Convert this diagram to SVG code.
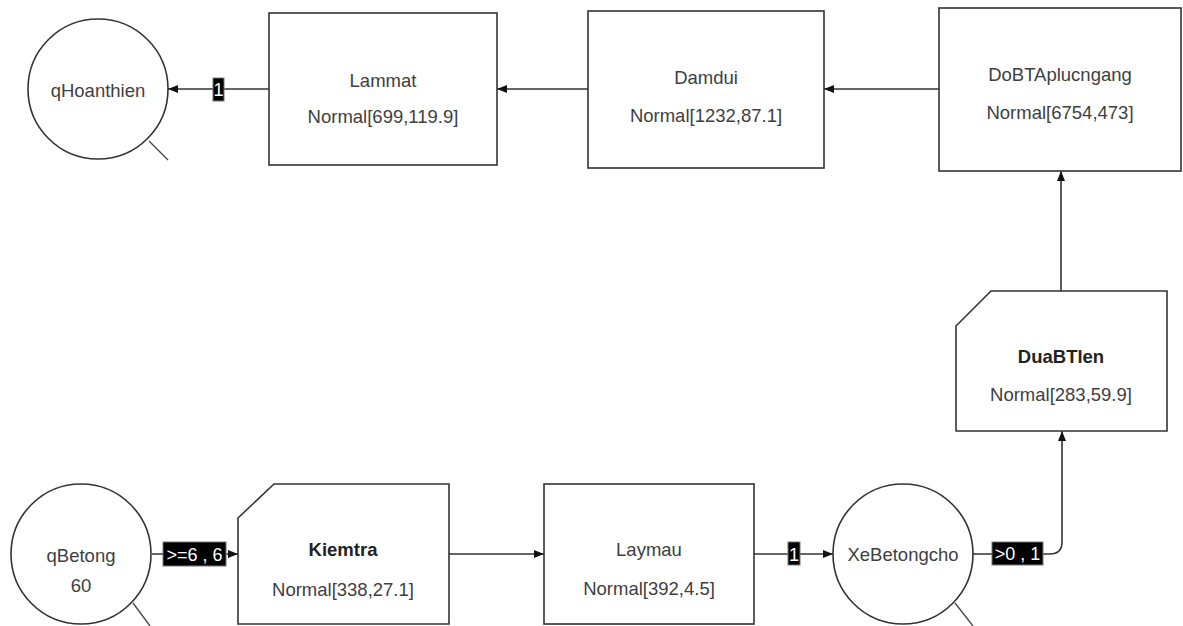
<svg xmlns="http://www.w3.org/2000/svg" width="1183" height="626" viewBox="0 0 1183 626">
  <defs>
    <marker id="arrow" viewBox="0 0 10 10" refX="10" refY="5" markerWidth="10" markerHeight="10" markerUnits="userSpaceOnUse" orient="auto">
      <path d="M0,1 L10,5 L0,9 Z" fill="#111"/>
    </marker>
    <style>
      .shape { fill: #fff; stroke: #333; stroke-width: 1.6; }
      .tail { fill: none; stroke: #444; stroke-width: 1.3; }
      .t { font-family: "Liberation Sans", Arial, sans-serif; font-size: 18.5px; fill: #404040; text-anchor: middle; }
      .b { font-weight: bold; fill: #222; }
      .edge { fill: none; stroke: #333; stroke-width: 1.6; }
      .lblbox { fill: #000; stroke: #777; stroke-width: 1; }
      .lbl { font-family: "Liberation Sans", Arial, sans-serif; font-size: 18px; fill: #fff; text-anchor: middle; }
    </style>
  </defs>
  <rect width="1183" height="626" fill="#fff"/>

  <!-- connectors -->
  <g id="connectors">
    <path class="edge" d="M152,554 H238" marker-end="url(#arrow)"/>
    <path class="edge" d="M449,554 H544" marker-end="url(#arrow)"/>
    <path class="edge" d="M754,554 H833" marker-end="url(#arrow)"/>
    <path class="edge" d="M973,554 H1050 Q1062,554 1062,542 V431" marker-end="url(#arrow)"/>
    <path class="edge" d="M1061,291 V171" marker-end="url(#arrow)"/>
    <path class="edge" d="M939,89 H824" marker-end="url(#arrow)"/>
    <path class="edge" d="M588,89 H497" marker-end="url(#arrow)"/>
    <path class="edge" d="M269,89 H168" marker-end="url(#arrow)"/>

    <g id="label-ge6">
      <rect class="lblbox" x="163" y="542" width="63" height="24"/>
      <text class="lbl" x="194.5" y="561">&gt;=6 , 6</text>
    </g>
    <g id="label-one-bottom">
      <rect class="lblbox" x="788" y="542" width="12" height="23"/>
      <text class="lbl" x="794" y="561">1</text>
    </g>
    <g id="label-gt0">
      <rect class="lblbox" x="992" y="542" width="51" height="23"/>
      <text class="lbl" x="1017.5" y="560">&gt;0 , 1</text>
    </g>
    <g id="label-one-top">
      <rect class="lblbox" x="213" y="78" width="11" height="23"/>
      <text class="lbl" x="218.5" y="96">1</text>
    </g>
  </g>

  <!-- queues -->
  <g id="qBetong">
    <line class="tail" x1="133" y1="603" x2="150" y2="626"/>
    <circle class="shape" cx="81" cy="554" r="70"/>
    <text class="t" x="81" y="562">qBetong</text>
    <text class="t" x="81" y="592">60</text>
  </g>

  <g id="XeBetongcho">
    <line class="tail" x1="955" y1="603" x2="973" y2="626"/>
    <circle class="shape" cx="903" cy="554" r="70"/>
    <text class="t" x="903" y="561">XeBetongcho</text>
  </g>

  <g id="qHoanthien">
    <line class="tail" x1="149" y1="141" x2="168" y2="160"/>
    <circle class="shape" cx="98" cy="89" r="70"/>
    <text class="t" x="98" y="97">qHoanthien</text>
  </g>

  <!-- activities -->
  <g id="Kiemtra">
    <path class="shape" d="M274,484 H449 V624 H238 V518 Z"/>
    <text class="t b" x="343" y="556">Kiemtra</text>
    <text class="t" x="343" y="596">Normal[338,27.1]</text>
  </g>

  <g id="Laymau">
    <rect class="shape" x="544" y="484" width="210" height="140"/>
    <text class="t" x="649" y="556">Laymau</text>
    <text class="t" x="649" y="595">Normal[392,4.5]</text>
  </g>

  <g id="DuaBTlen">
    <path class="shape" d="M991,291 H1167 V431 H956 V326 Z"/>
    <text class="t b" x="1061" y="363">DuaBTlen</text>
    <text class="t" x="1061" y="401">Normal[283,59.9]</text>
  </g>

  <g id="DoBTAplucngang">
    <rect class="shape" x="939" y="8" width="242" height="163"/>
    <text class="t" x="1060" y="81">DoBTAplucngang</text>
    <text class="t" x="1060" y="119">Normal[6754,473]</text>
  </g>

  <g id="Damdui">
    <rect class="shape" x="588" y="11" width="236" height="157"/>
    <text class="t" x="706" y="84">Damdui</text>
    <text class="t" x="706" y="122">Normal[1232,87.1]</text>
  </g>

  <g id="Lammat">
    <rect class="shape" x="269" y="13" width="228" height="152"/>
    <text class="t" x="383" y="87">Lammat</text>
    <text class="t" x="383" y="123">Normal[699,119.9]</text>
  </g>
</svg>
